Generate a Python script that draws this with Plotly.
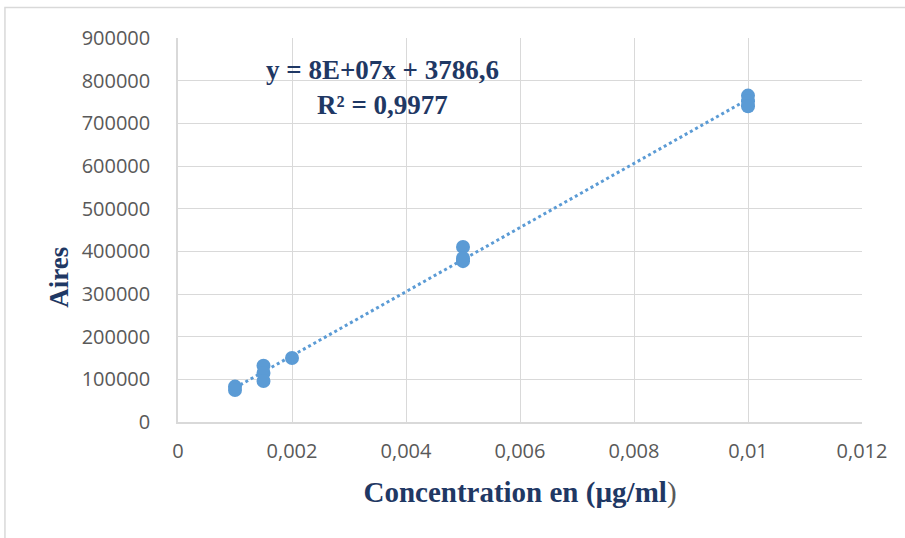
import numpy as np
import plotly.graph_objects as go

# Data
concentration = [0.001, 0.001, 0.0015, 0.0015, 0.0015, 0.002, 0.005, 0.005, 0.005, 0.01, 0.01, 0.01]
aires = [83000, 75000, 132000, 115000, 96000, 150000, 410000, 384000, 377000, 765000, 752000, 740000]
equation_text = "y = 8E+07x + 3786,6"
r2_text = "R² = 0,9977"
x_ticks = [0, 0.002, 0.004, 0.006, 0.008, 0.01, 0.012]
y_ticks = [0, 100000, 200000, 300000, 400000, 500000, 600000, 700000, 800000, 900000]

slope, intercept = np.polyfit(concentration, aires, 1)
x_fit = [min(concentration), max(concentration)]
y_fit = [slope * v + intercept for v in x_fit]

blue = "#5B9BD5"
navy = "#1F3864"
grid = "#D9D9D9"
tickc = "#595959"

fig = go.Figure()
fig.add_trace(go.Scatter(x=x_fit, y=y_fit, mode="lines",
                         line=dict(color=blue, width=3, dash="dot"),
                         showlegend=False, hoverinfo="skip"))
fig.add_trace(go.Scatter(x=concentration, y=aires, mode="markers",
                         marker=dict(color=blue, size=14),
                         showlegend=False))

fig.add_annotation(x=0.00358, y=783000, xref="x", yref="y",
                   text=f"<b>{equation_text}</b><br><b>{r2_text}</b>",
                   showarrow=False, align="center",
                   font=dict(family="Liberation Serif", size=27, color=navy))

fig.add_annotation(x=-0.199, y=0.378, xref="paper", yref="paper",
                   text="<b>Aires</b>", textangle=-90, showarrow=False,
                   font=dict(family="Liberation Serif", size=27, color=navy))

fig.add_shape(type="rect", xref="paper", yref="paper",
              x0=-0.253, y0=-0.6, x1=1.2, y1=1.0795,
              line=dict(color=grid, width=1.5), layer="below")

fig.update_layout(
    width=905, height=538,
    margin=dict(l=178, r=43, t=38, b=116),
    paper_bgcolor="white", plot_bgcolor="white",
    separators=", ",
    xaxis=dict(range=[0, 0.012], tickvals=x_ticks, tickformat=".3~f",
               showgrid=True, gridcolor=grid, gridwidth=1.3,
               showline=True, linecolor=grid, linewidth=1.5, mirror=False,
               zeroline=False, ticks="", ticklabelstandoff=10,
               tickfont=dict(family="Open Sans", size=20, color=tickc),
               title=dict(text="<b>Concentration en (µg/ml</b><span style='color:#595959'>)</span>",
                          font=dict(family="Liberation Serif", size=29, color=navy),
                          standoff=19)),
    yaxis=dict(range=[0, 900000], tickvals=y_ticks, tickformat="d",
               showgrid=True, gridcolor=grid, gridwidth=1.3,
               showline=True, linecolor=grid, linewidth=1.5,
               zeroline=False, ticks="", ticklabelstandoff=22,
               tickfont=dict(family="Open Sans", size=20, color=tickc)),
)

fig.write_html("out.html")
